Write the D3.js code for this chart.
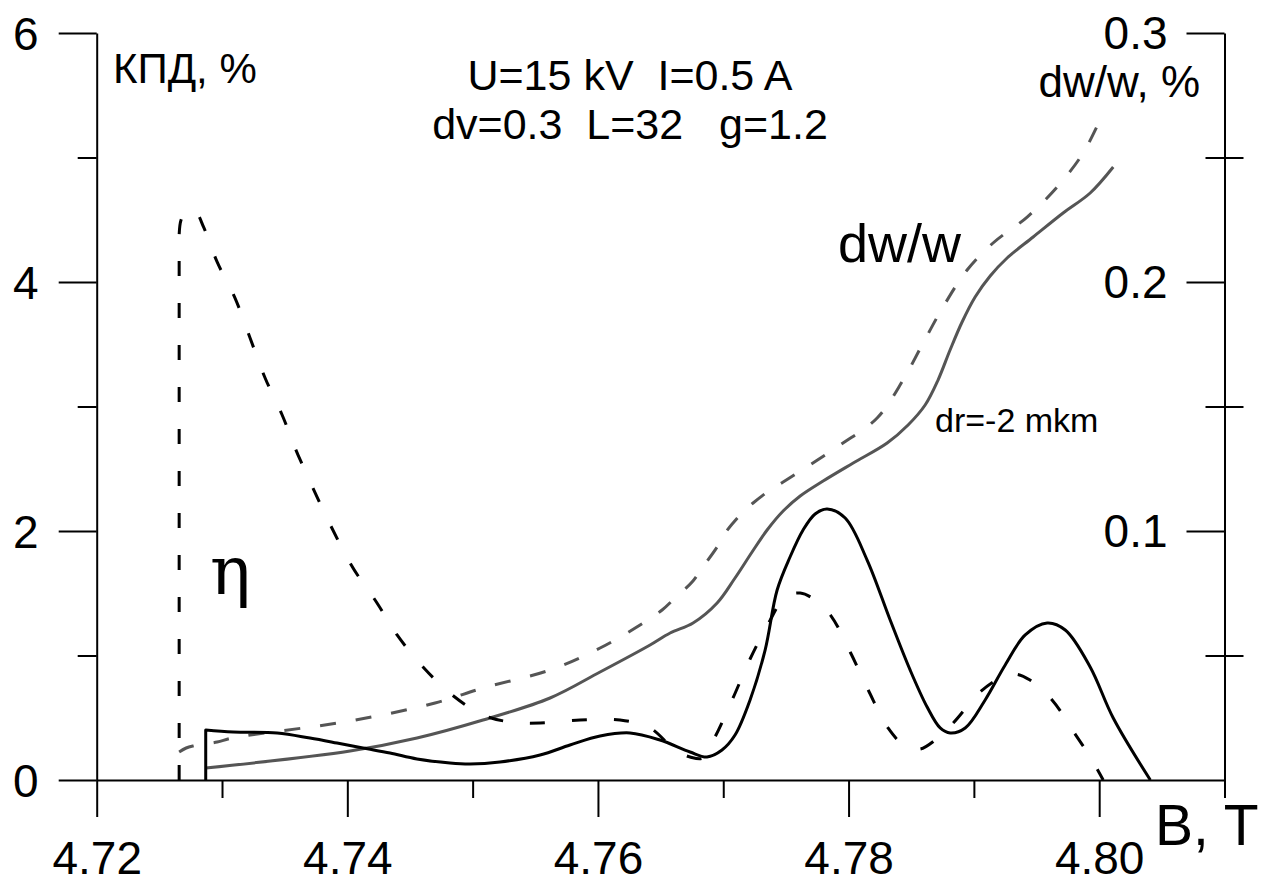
<!DOCTYPE html>
<html><head><meta charset="utf-8">
<script src="https://cdn.jsdelivr.net/npm/d3@7"></script>
<style>
body{margin:0;background:#fff}
svg{display:block}
text{font-family:"Liberation Sans",Arial,sans-serif;fill:#000}
</style>
</head><body>
<svg id="c" width="1264" height="885"></svg>
<script>
// ---- data ----
const xMajorTicks = [4.72, 4.74, 4.76, 4.78, 4.80];
const xMinorTicks = [4.73, 4.75, 4.77, 4.79, 4.81];
const leftMajorTicks = [0, 2, 4, 6];
const leftMinorTicks = [1, 3, 5];
const rightMajorTicks = [0.1, 0.2, 0.3];
const rightMinorTicks = [0.05, 0.15, 0.25];

// efficiency, dr = 0 (black solid), left axis
const etaSolidB = [4.72870,4.72870,4.73089,4.73440,4.73702,4.73918,4.74125,4.74341,4.74556,4.74819,4.74979,4.75218,4.75538,4.75777,4.76017,4.76256,4.76495,4.76735,4.76870,4.76990,4.77094,4.77214,4.77334,4.77430,4.77533,4.77637,4.77733,4.77829,4.77973,4.78148,4.78332,4.78491,4.78627,4.78731,4.78811,4.78931,4.79090,4.79250,4.79410,4.79585,4.79729,4.79928,4.80112,4.80408];
const etaSolidV = [0,0.402,0.386,0.378,0.337,0.297,0.257,0.217,0.169,0.137,0.129,0.145,0.201,0.281,0.353,0.378,0.321,0.225,0.185,0.241,0.361,0.643,1.044,1.526,1.791,2.008,2.137,2.177,2.104,1.767,1.285,0.884,0.586,0.418,0.378,0.418,0.643,0.924,1.165,1.261,1.205,0.908,0.498,0];

// efficiency, dr = -2 mkm (black dashed), left axis
const etaDashB = [4.72658,4.72658,4.72673,4.72721,4.72785,4.72856,4.72961,4.73104,4.73224,4.73344,4.73480,4.73607,4.74022,4.74237,4.74397,4.74604,4.74836,4.75083,4.75299,4.75538,4.75857,4.76176,4.76416,4.76615,4.76735,4.76839,4.76934,4.77078,4.77214,4.77358,4.77494,4.77614,4.77733,4.77861,4.78013,4.78157,4.78315,4.78451,4.78571,4.78691,4.78835,4.79050,4.79209,4.79329,4.79448,4.79624,4.79808,4.79928,4.80032];
const etaDashV = [0,4.378,4.498,4.578,4.570,4.434,4.161,3.871,3.550,3.229,2.932,2.610,1.743,1.422,1.165,0.908,0.683,0.522,0.466,0.458,0.482,0.482,0.418,0.241,0.185,0.177,0.345,0.659,0.972,1.253,1.470,1.502,1.446,1.317,1.028,0.723,0.418,0.273,0.249,0.321,0.458,0.707,0.819,0.851,0.803,0.643,0.369,0.185,0];

// dw/w, dr = 0 (gray solid), right axis
const dwSolidB = [4.72870,4.74022,4.74556,4.75083,4.75618,4.76017,4.76416,4.76576,4.76759,4.76951,4.77094,4.77230,4.77350,4.77478,4.77614,4.77797,4.78037,4.78308,4.78475,4.78611,4.78714,4.78810,4.78906,4.79010,4.79130,4.79265,4.79473,4.79712,4.79928,4.80112];
const dwSolidV = [0.00482,0.01165,0.01687,0.02410,0.03293,0.04337,0.05422,0.05904,0.06305,0.07108,0.08112,0.09157,0.10040,0.10803,0.11406,0.12008,0.12731,0.13534,0.14257,0.15060,0.16064,0.17269,0.18394,0.19398,0.20241,0.20964,0.21807,0.22771,0.23574,0.24618];

// dw/w, dr = -2 mkm (gray dashed), right axis
const dwDashB = [4.72658,4.72714,4.72769,4.72961,4.73081,4.74022,4.74700,4.75083,4.75618,4.76017,4.76336,4.76512,4.76615,4.76751,4.76831,4.76951,4.77015,4.77150,4.77238,4.77374,4.77478,4.77932,4.78228,4.78435,4.78595,4.78754,4.78946,4.79153,4.79425,4.79664,4.79872,4.80032];
const dwDashV = [0.01124,0.01285,0.01365,0.01526,0.01687,0.02369,0.03092,0.03695,0.04418,0.05301,0.06225,0.06827,0.07309,0.07952,0.08514,0.09357,0.09920,0.10723,0.11124,0.11647,0.11968,0.13454,0.14538,0.16064,0.17550,0.18996,0.20482,0.21566,0.22610,0.23815,0.25181,0.26787];

// ---- chart ----
const svg = d3.select("#c");
const x = d3.scaleLinear().domain([4.72, 4.81]).range([96.7, 1224.5]);
const yL = d3.scaleLinear().domain([0, 6]).range([780, 33]);
const yR = d3.scaleLinear().domain([0, 0.3]).range([780, 33]);

function styleAxis(g, fs) {
  g.selectAll("line").attr("stroke", "#000").attr("stroke-width", 2);
  g.selectAll(".domain").attr("stroke", "#000").attr("stroke-width", 2);
  g.selectAll("text").style("font-size", fs + "px").attr("fill", "#000")
    .style("font-family", '"Liberation Sans", Arial, sans-serif');
}

// bottom axis
const gx = svg.append("g").attr("transform", "translate(0,780)")
  .call(d3.axisBottom(x).tickValues(xMajorTicks).tickSize(37).tickSizeOuter(0).tickFormat(d3.format(".2f")));
styleAxis(gx, 46);
gx.selectAll("text").attr("y", 94).attr("dy", 0);
const gx2 = svg.append("g").attr("transform", "translate(0,780)")
  .call(d3.axisBottom(x).tickValues(xMinorTicks).tickSize(18).tickFormat(""));
gx2.select(".domain").remove();
styleAxis(gx2, 46);

// left axis
const gl = svg.append("g").attr("transform", "translate(96.7,0)")
  .call(d3.axisLeft(yL).tickValues(leftMajorTicks).tickSize(38).tickPadding(20).tickSizeOuter(0).tickFormat(d3.format("d")));
styleAxis(gl, 46);
gl.selectAll("text").attr("dy", "0.36em");
const gl2 = svg.append("g").attr("transform", "translate(96.7,0)")
  .call(d3.axisLeft(yL).tickValues(leftMinorTicks).tickSize(19).tickFormat(""));
gl2.select(".domain").remove();
styleAxis(gl2, 46);

// right axis
const gr = svg.append("g").attr("transform", "translate(1224.5,0)")
  .call(d3.axisLeft(yR).tickValues(rightMajorTicks).tickSize(38).tickPadding(19).tickSizeOuter(0).tickFormat(d3.format(".1f")));
styleAxis(gr, 46);
gr.selectAll("text").attr("dy", "0.34em");
const gr2 = svg.append("g").attr("transform", "translate(1224.5,0)")
  .call(d3.axisRight(yR).tickValues(rightMinorTicks).tickSize(19).tickFormat(""));
gr2.select(".domain").remove();
gr2.selectAll("line").attr("x1", -19);
styleAxis(gr2, 46);

// curves
function curvePath(Bs, Vs, y, verticalStart) {
  const pts = d3.zip(Bs, Vs);
  const gen = d3.line().x(d => x(d[0])).y(d => y(d[1])).curve(d3.curveCatmullRom.alpha(0.5));
  if (verticalStart) {
    const h = pts[0];
    return "M" + x(h[0]) + "," + y(h[1]) + "L" + gen(pts.slice(1)).slice(1);
  }
  return gen(pts);
}

svg.append("path").attr("d", curvePath(dwDashB, dwDashV, yR, false))
  .attr("fill", "none").attr("stroke", "#555").attr("stroke-width", 3)
  .attr("stroke-dasharray", "16,20");
svg.append("path").attr("d", curvePath(dwSolidB, dwSolidV, yR, false))
  .attr("fill", "none").attr("stroke", "#555").attr("stroke-width", 3);
svg.append("path").attr("d", curvePath(etaDashB, etaDashV, yL, true))
  .attr("fill", "none").attr("stroke", "#000").attr("stroke-width", 3)
  .attr("stroke-dasharray", "15,27");
svg.append("path").attr("d", curvePath(etaSolidB, etaSolidV, yL, true))
  .attr("fill", "none").attr("stroke", "#000").attr("stroke-width", 3)
  .attr("stroke-linejoin", "round");

// texts
function txt(s, px, py, fs, anchor, fam) {
  const t = svg.append("text").attr("x", px).attr("y", py)
    .attr("text-anchor", anchor || "start").style("font-size", fs + "px")
    .style("white-space", "pre").attr("xml:space", "preserve").text(s);
  if (fam) t.style("font-family", fam);
  return t;
}
txt("КПД, %", 113, 83, 42);
txt("U=15 kV  I=0.5 A", 630, 90, 43, "middle");
txt("dv=0.3  L=32   g=1.2", 630, 139, 43, "middle");
txt("dw/w, %", 1200, 97, 44, "end");
txt("dw/w", 838, 262, 54);
txt("dr=-2 mkm", 935, 432, 34);
txt("η", 210, 594, 68, "start", '"DejaVu Serif","Liberation Serif",serif');
txt("B, T", 1155, 845, 57);
</script>
</body></html>
